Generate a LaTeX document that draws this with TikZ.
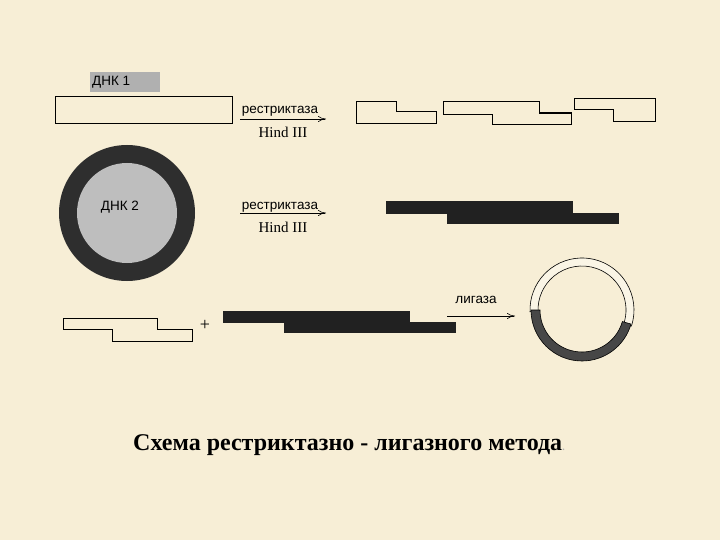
\documentclass[tikz,border=0pt]{standalone}
\usepackage{fontspec}
\usetikzlibrary{arrows.meta}
\setmainfont{Liberation Serif}
\newfontfamily\lsans{Liberation Sans}
\begin{document}
\begin{tikzpicture}[x=1pt,y=-1pt,
  frag/.style={draw=black,line width=1pt,fill=none},
  dark/.style={fill=black!87,draw=none},
  lab/.style={font=\lsans\fontsize{13.5}{15}\selectfont,inner sep=0pt},
  enz/.style={font=\fontsize{15}{17}\selectfont,inner sep=0pt},
  arr/.style={-{To[length=8pt,width=6pt]},line width=0.6pt}]
\fill[fill={rgb,255:red,247;green,238;blue,214}] (0,0) rectangle (720,540);
\useasboundingbox (0,0) rectangle (720,540);
% DNK1
\fill[fill={rgb,255:red,176;green,176;blue,176}] (90,72) rectangle (160,92);
\node[lab,anchor=west] (d1) at (92,82) {ДНК 1};
\draw[frag] (55,97) rectangle (232,124);
\node[lab] (r1) at (280,111) {рестриктаза};
\coordinate (a1s) at (240,119); \coordinate (a1e) at (326,119);
\draw[arr] (a1s) -- (a1e);
\node[enz] (h1) at (283,132) {Hind III};
\draw[frag] (356,102)--(396,102)--(396,112)--(436,112)--(436,124)--(356,124)--cycle;
\draw[frag] (443,102)--(539,102)--(539,113)--(571,113)--(571,125)--(492,125)--(492,115)--(443,115)--cycle;
\draw[line width=2pt] (539,113)--(571,113);
\draw[frag] (574,99)--(655,99)--(655,122)--(613,122)--(613,110)--(574,110)--cycle;
% DNK2
\fill[black!82] (127,213) circle (68);
\fill[fill={rgb,255:red,190;green,190;blue,190}] (127,213) circle (50);
\node[lab] (d2) at (120,207) {ДНК 2};
\node[lab] (r2) at (280,207) {рестриктаза};
\coordinate (a2s) at (240,213); \coordinate (a2e) at (326,213);
\draw[arr] (a2s) -- (a2e);
\node[enz] (h2) at (283,227) {Hind III};
\fill[dark] (386,201) rectangle (573,214);
\fill[dark] (447,213) rectangle (619,224);
% row 3
\draw[frag] (63,318)--(157,318)--(157,329)--(192,329)--(192,341)--(112,341)--(112,329)--(63,329)--cycle;
\node[font=\fontsize{18}{20}\selectfont,inner sep=0pt] (plus) at (205,325) {+};
\fill[dark] (223,311) rectangle (410,323);
\fill[dark] (284,322) rectangle (456,333);
\node[lab] (lg) at (476,300) {лигаза};
\coordinate (a3s) at (447,316); \coordinate (a3e) at (515,316);
\draw[arr] (a3s) -- (a3e);
% ring
\begin{scope}[shift={(582,310)}]
\draw[line width=0.6pt,fill={rgb,255:red,250;green,245;blue,230}]
  (178:52) arc[start angle=178,end angle=378,radius=52] -- (20:44) arc[start angle=20,end angle=-182,radius=44] -- cycle;
\fill[black!72,draw=black,line width=0.6pt]
  (180:51) arc[start angle=180,end angle=16,radius=51] -- (16:42) arc[start angle=16,end angle=180,radius=42] -- cycle;
\end{scope}
% title
\node[font=\bfseries\fontsize{24}{28}\selectfont,inner sep=0pt] (t) at (349,445) {Схема рестриктазно - лигазного метода\textcolor{black!30}{\fontsize{10}{12}\selectfont.}};
\end{tikzpicture}
\end{document}
